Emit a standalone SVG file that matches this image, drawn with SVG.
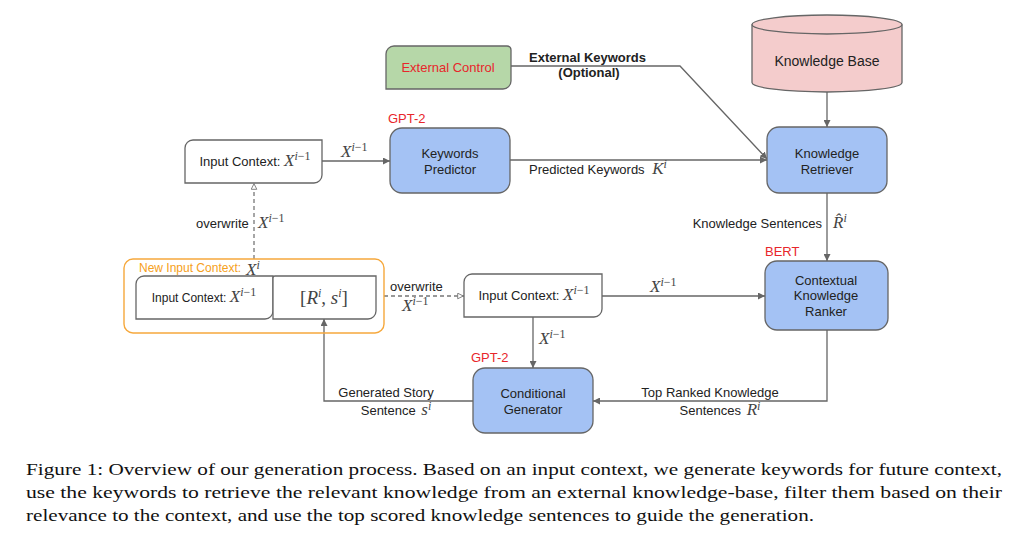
<svg xmlns="http://www.w3.org/2000/svg" width="1028" height="549" viewBox="0 0 1028 549">
<defs>
<marker id="arr" viewBox="0 0 10 10" refX="10" refY="5" markerWidth="7" markerHeight="7" markerUnits="userSpaceOnUse" orient="auto">
<path d="M0,0 L10,5 L0,10 Z" fill="#666"/>
</marker>
<marker id="arrOpen" viewBox="0 0 10 10" refX="10" refY="5" markerWidth="7" markerHeight="7" markerUnits="userSpaceOnUse" orient="auto">
<path d="M1,1 L9,5 L1,9 Z" fill="#fff" stroke="#777" stroke-width="1.3"/>
</marker>
</defs>
<style>
.sans{font-family:"Liberation Sans",Arial,sans-serif;font-size:13px;fill:#222}
.lbl{font-family:"Liberation Sans",Arial,sans-serif;font-size:13px;fill:#222}
.red{font-family:"Liberation Sans",Arial,sans-serif;font-size:13px;fill:#e8262b}
.m{font-family:"Liberation Serif","Times New Roman",serif;font-style:italic;font-size:17px;fill:#444}
.sup{font-family:"Liberation Serif","Times New Roman",serif;font-size:12px;fill:#444}
.supi{font-family:"Liberation Serif","Times New Roman",serif;font-style:italic;font-size:12px;fill:#444}
.box{stroke:#666;stroke-width:1.3}
.blue{fill:#a4c2f4}
.white{fill:#fff}
.conn{fill:none;stroke:#666;stroke-width:1.3}
.dash{fill:none;stroke:#777;stroke-width:1.3;stroke-dasharray:4,3}
.cap{font-family:"Liberation Serif","Times New Roman",serif;font-size:17.5px;fill:#111}
</style>
<rect width="1028" height="549" fill="#fff"/>

<g id="connectors">
<path class="conn" d="M322,161 H390" marker-end="url(#arr)"/>
<path class="conn" d="M510,160 H767" marker-end="url(#arr)"/>
<path class="conn" d="M511,66 H680 L767,159" marker-end="url(#arr)"/>
<path class="conn" d="M827,92 V127" marker-end="url(#arr)"/>
<path class="conn" d="M827,193 V261" marker-end="url(#arr)"/>
<path class="conn" d="M602,296 H765" marker-end="url(#arr)"/>
<path class="conn" d="M533,317 V368" marker-end="url(#arr)"/>
<path class="conn" d="M827,330 V401 H593" marker-end="url(#arr)"/>
<path class="conn" d="M473,401 H324 V319" marker-end="url(#arr)"/>
<path class="dash" d="M384,296 H464" marker-end="url(#arrOpen)"/>
<path class="dash" d="M254,259 V183" marker-end="url(#arrOpen)"/>
</g>

<g id="connector-labels">
<text x="341" y="157"><tspan class="m">X</tspan><tspan class="supi" dy="-6">i</tspan><tspan class="sup">−1</tspan></text>
<text x="529" y="174" class="lbl">Predicted Keywords <tspan class="m" dx="4">K</tspan><tspan class="supi" dy="-6">i</tspan></text>
<text x="529" y="62" class="lbl" style="font-weight:bold">External Keywords</text>
<text x="589" y="77" class="lbl" text-anchor="middle" style="font-weight:bold">(Optional)</text>
<text x="822" y="228" class="lbl" text-anchor="end">Knowledge Sentences</text>
<text x="833" y="228"><tspan class="m">R̂</tspan><tspan class="supi" dy="-6">i</tspan></text>
<text x="650" y="292"><tspan class="m">X</tspan><tspan class="supi" dy="-6">i</tspan><tspan class="sup">−1</tspan></text>
<text x="539" y="344"><tspan class="m">X</tspan><tspan class="supi" dy="-6">i</tspan><tspan class="sup">−1</tspan></text>
<text x="710" y="397" class="lbl" text-anchor="middle">Top Ranked Knowledge</text>
<text x="720" y="415" class="lbl" text-anchor="middle">Sentences <tspan class="m" dx="2">R</tspan><tspan class="supi" dy="-5">i</tspan></text>
<text x="386" y="397" class="lbl" text-anchor="middle">Generated Story</text>
<text x="396" y="415" class="lbl" text-anchor="middle">Sentence <tspan class="m" dx="2">s</tspan><tspan class="supi" dy="-5">i</tspan></text>
<text x="390" y="291" class="lbl">overwrite</text>
<text x="402" y="311"><tspan class="m">X</tspan><tspan class="supi" dy="-6">i</tspan><tspan class="sup">−1</tspan></text>
<text x="196" y="228" class="lbl">overwrite</text>
<text x="258" y="228"><tspan class="m">X</tspan><tspan class="supi" dy="-6">i</tspan><tspan class="sup">−1</tspan></text>
</g>

<g id="external-control">
<path class="box" fill="#b6d7a8" d="M394,46 H507 Q511,46 511,50 V81 A8,8 0 0 1 503,89 H386 V54 A8,8 0 0 1 394,46 Z"/>
<text x="448" y="72" class="red" text-anchor="middle">External Control</text>
</g>

<g id="knowledge-base">
<path class="box" fill="#f4cccc" d="M752,24.5 A75,9.5 0 0 1 902,24.5 V82.5 A75,9.5 0 0 1 752,82.5 Z"/>
<path class="box" fill="none" d="M752,24.5 A75,9.5 0 0 0 902,24.5"/>
<text x="827" y="66" class="sans" text-anchor="middle" style="font-size:14px">Knowledge Base</text>
</g>

<g id="input-context-top">
<path class="box white" d="M193,140 H322 V175 A8,8 0 0 1 314,183 H185 V148 A8,8 0 0 1 193,140 Z"/>
<text x="255" y="166" class="sans" text-anchor="middle">Input Context: <tspan class="m">X</tspan><tspan class="supi" dy="-6">i</tspan><tspan class="sup">−1</tspan></text>
</g>

<g id="keywords-predictor">
<text x="388" y="123" class="red">GPT-2</text>
<rect class="box blue" x="390" y="128" width="120" height="65" rx="12"/>
<text x="450" y="158" class="sans" text-anchor="middle">Keywords</text>
<text x="450" y="174" class="sans" text-anchor="middle">Predictor</text>
</g>

<g id="knowledge-retriever">
<rect class="box blue" x="767" y="127" width="120" height="66" rx="12"/>
<text x="827" y="158" class="sans" text-anchor="middle">Knowledge</text>
<text x="827" y="174" class="sans" text-anchor="middle">Retriever</text>
</g>

<g id="knowledge-ranker">
<text x="765" y="256" class="red">BERT</text>
<rect class="box blue" x="765" y="261" width="123" height="69" rx="12"/>
<text x="826" y="285" class="sans" text-anchor="middle">Contextual</text>
<text x="826" y="300" class="sans" text-anchor="middle">Knowledge</text>
<text x="826" y="316" class="sans" text-anchor="middle">Ranker</text>
</g>

<g id="input-context-mid">
<path class="box white" d="M472,274 H602 V309 A8,8 0 0 1 594,317 H464 V282 A8,8 0 0 1 472,274 Z"/>
<text x="534" y="300" class="sans" text-anchor="middle">Input Context: <tspan class="m">X</tspan><tspan class="supi" dy="-6">i</tspan><tspan class="sup">−1</tspan></text>
</g>

<g id="conditional-generator">
<text x="471" y="362" class="red">GPT-2</text>
<rect class="box blue" x="473" y="368" width="120" height="65" rx="12"/>
<text x="533" y="398" class="sans" text-anchor="middle">Conditional</text>
<text x="533" y="414" class="sans" text-anchor="middle">Generator</text>
</g>

<g id="new-input-context">
<rect x="124" y="259" width="260" height="74" rx="9" fill="none" stroke="#f6a83c" stroke-width="1.4"/>
<text x="139" y="272" style="font-family:'Liberation Sans',Arial,sans-serif;font-size:12px;fill:#f6a020">New Input Context:</text>
<text x="246" y="275"><tspan class="m">X</tspan><tspan class="supi" dy="-6">i</tspan></text>
<path class="box white" d="M144,276 H273 V311 A8,8 0 0 1 265,319 H136 V284 A8,8 0 0 1 144,276 Z"/>
<text x="204" y="302" class="sans" text-anchor="middle" style="font-size:12px">Input Context: <tspan class="m">X</tspan><tspan class="supi" dy="-6">i</tspan><tspan class="sup">−1</tspan></text>
<path class="box white" d="M275,276 H376 V311 A8,8 0 0 1 368,319 H273 V278 A2,2 0 0 1 275,276 Z"/>
<text x="324" y="304" text-anchor="middle"><tspan style="font-family:'Liberation Serif',serif;font-size:19px;fill:#444">[</tspan><tspan class="m" style="font-size:19px">R</tspan><tspan class="supi" dy="-7">i</tspan><tspan dy="7" style="font-family:'Liberation Serif',serif;font-size:19px;fill:#444">, </tspan><tspan class="m" style="font-size:19px">s</tspan><tspan class="supi" dy="-7">i</tspan><tspan dy="7" style="font-family:'Liberation Serif',serif;font-size:19px;fill:#444">]</tspan></text>
</g>

<g id="caption">
<text x="26" y="475" class="cap" textLength="976" lengthAdjust="spacingAndGlyphs">Figure 1: Overview of our generation process. Based on an input context, we generate keywords for future context,</text>
<text x="26" y="498" class="cap" textLength="976" lengthAdjust="spacingAndGlyphs">use the keywords to retrieve the relevant knowledge from an external knowledge-base, filter them based on their</text>
<text x="26" y="521" class="cap" textLength="788" lengthAdjust="spacingAndGlyphs">relevance to the context, and use the top scored knowledge sentences to guide the generation.</text>
</g>
</svg>
